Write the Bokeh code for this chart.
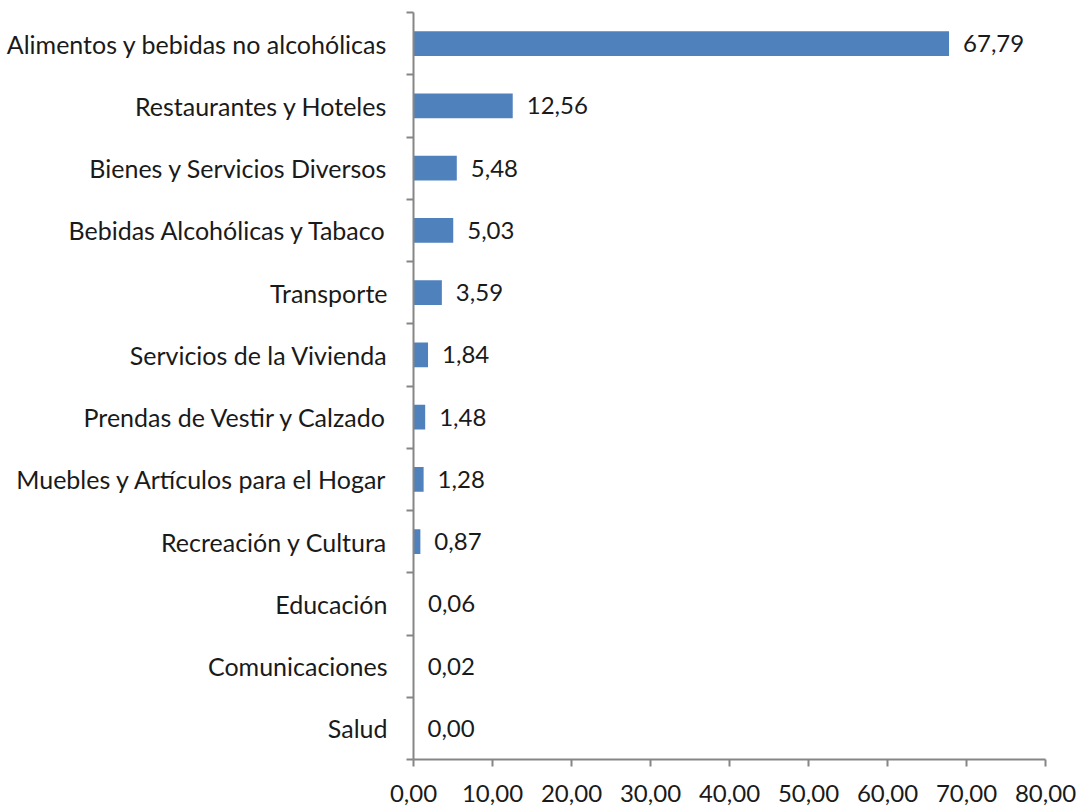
from bokeh.plotting import figure
from bokeh.models import FixedTicker, ColumnDataSource
from bokeh.embed import file_html
from bokeh.resources import INLINE
from bokeh.core.properties import value

categories = ["Alimentos y bebidas no alcohólicas", "Restaurantes y Hoteles",
              "Bienes y Servicios Diversos", "Bebidas Alcohólicas y Tabaco",
              "Transporte", "Servicios de la Vivienda", "Prendas de Vestir y Calzado",
              "Muebles y Artículos para el Hogar", "Recreación y Cultura",
              "Educación", "Comunicaciones", "Salud"]
values = [67.79, 12.56, 5.48, 5.03, 3.59, 1.84, 1.48, 1.28, 0.87, 0.06, 0.02, 0.00]
x_ticks = [0, 10, 20, 30, 40, 50, 60, 70, 80]

FONT = "Lato"
n = len(categories)
centers = [n - 0.5 - i for i in range(n)]
labels = [f"{v:.2f}".replace(".", ",") for v in values]

src = ColumnDataSource(dict(y=centers, v=values, lab=labels))

p = figure(width=1078, height=808, x_range=(0, 80), y_range=(0, n),
           output_backend="svg", toolbar_location=None,
           min_border_left=413, min_border_right=33, min_border_top=12, min_border_bottom=49)
p.outline_line_color = None
p.xgrid.visible = False
p.ygrid.visible = False

p.hbar(y="y", left=0, right="v", height=0.4, source=src, color="#4F81BD", line_color=None)
p.text(x="v", y="y", text="lab", source=src, x_offset=14, text_baseline="middle",
       text_align="left", text_font=value(FONT), text_font_size="24px", text_color="#1a1a1a")

ax = p.xaxis[0]
ax.ticker = FixedTicker(ticks=x_ticks)
ax.major_label_overrides = {t: f"{t:.2f}".replace(".", ",") for t in x_ticks}
ax.axis_line_color = "#868686"
ax.major_tick_line_color = "#868686"
ax.major_tick_out = 7
ax.major_tick_in = 0
ax.minor_tick_line_color = None
ax.major_label_text_font = FONT
ax.major_label_text_font_size = "24px"
ax.major_label_text_color = "#1a1a1a"
ax.major_label_standoff = 18
ax.axis_line_width = 2
ax.major_tick_line_width = 2

ay = p.yaxis[0]
ay.ticker = FixedTicker(ticks=centers, minor_ticks=list(range(n + 1)))
ay.major_label_overrides = {c: categories[i] for i, c in enumerate(centers)}
ay.axis_line_color = "#868686"
ay.axis_line_width = 2
ay.major_tick_line_color = None
ay.major_tick_out = 0
ay.major_tick_in = 0
ay.minor_tick_line_color = "#868686"
ay.minor_tick_line_width = 2
ay.minor_tick_out = 7
ay.minor_tick_in = 0
ay.major_label_text_font = FONT
ay.major_label_text_font_size = "25px"
ay.major_label_text_color = "#1a1a1a"
ay.major_label_standoff = 19

open("out.html", "w").write(file_html(p, INLINE))
